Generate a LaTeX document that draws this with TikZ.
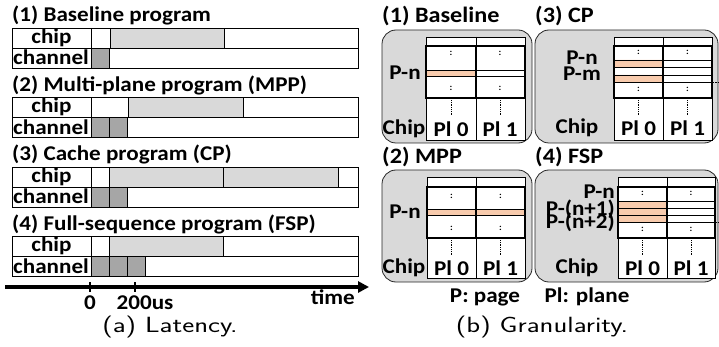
\documentclass[tikz,border=0pt]{standalone}
\usepackage{fontspec}
\setmainfont[FakeStretch=1.1]{Carlito}
\usepackage{graphicx}
\usetikzlibrary{arrows.meta}
\definecolor{busygray}{HTML}{D9D9D9}
\definecolor{xfergray}{HTML}{A6A6A6}
\definecolor{panelgray}{HTML}{D9D9D9}
\definecolor{pageorange}{HTML}{F8CBAD}
\begin{document}
\begin{tikzpicture}[
  x=1pt, y=-1pt,
  lbl/.style={font=\fontsize{21}{22}\selectfont\bfseries, inner sep=0pt},
  title/.style={lbl, anchor=base west},
  ptitle/.style={font=\fontsize{22}{23}\selectfont\bfseries, inner sep=0pt, anchor=west},
  capt/.style={font=\fontsize{22}{23}\selectfont\sffamily, inner sep=0pt},
  cell/.style={draw, line width=0.7pt},
  busy/.style={cell, fill=busygray},
  xfer/.style={cell, fill=xfergray},
  axis/.style={line width=3.5pt, -{Triangle[length=11pt,width=11pt]}},
  tick/.style={line width=2pt},
  panel/.style={draw=black!85, fill=panelgray, line width=0.8pt, rounded corners=14pt},
  plane/.style={draw, line width=2pt},
  page/.style={fill=pageorange},
  dots/.style={font=\fontsize{9}{9}\selectfont\bfseries, inner sep=0pt}
]
\useasboundingbox (0,0) rectangle (719,347);

% (a) latency
\foreach \i/\y/\t in {1/28/{(1) Baseline program}, 2/97.5/{(2) Multi-plane program (MPP)},
                      3/167/{(3) Cache program (CP)}, 4/236.5/{(4) Full-sequence program (FSP)}} {
  \node[title] (title\i) at (12,\y-6) {\t};
  \draw[cell] (12,\y) rectangle (358,\y+40);
  \draw[cell] (12,\y+20) -- (358,\y+20) (91,\y) -- (91,\y+40);
  \node[lbl] (chip\i) at (51.5,\y+9.5) {chip};
  \node[lbl] (chan\i) at (51,\y+29.5) {channel};
}
\foreach \y/\a/\b in {28/110/224, 97.5/128/243, 167/109/223, 167/223/338, 236.5/109/223}
  \draw[busy] (\a,\y) rectangle (\b,\y+20);
\foreach \y/\a in {28/91, 97.5/91, 97.5/109, 167/91, 167/109, 236.5/91, 236.5/109, 236.5/127}
  \draw[xfer] (\a,\y+20) rectangle (\a+18,\y+40);

\coordinate (t0) at (5,287);
\coordinate (t1) at (369,287);
\draw[axis] (t0) -- (t1);
\draw[tick] (90,282) -- (90,292) (135,282) -- (135,292);
\node[lbl] (zero) at (90,303) {0};
\node[lbl] (t200) at (145,303) {200us};
\node[lbl, anchor=east] (time) at (355,297) {time};
\node[capt] (capa) at (170,327) {\scalebox{1.3}[1]{(a) Latency.}};

% (b) granularity
\node[ptitle] (tbase) at (382,16) {(1) Baseline};
\node[ptitle] (tcp) at (535,16) {(3) CP};
\node[ptitle] (tmpp) at (382,157) {(2) MPP};
\node[ptitle] (tfsp) at (535,157) {(4) FSP};

% (1) Baseline
\draw[panel] (382,30) rectangle (532,143);
\draw[cell, fill=white] (426,37) rectangle (525,140);
\draw[cell] (476,37) -- (476,140);
\fill[page] (426,70) rectangle (476,76);
\draw[cell] (426,70) -- (525,70) (426,76) -- (525,76);
\draw[plane] (426,46) rectangle (476,98) (476,46) rectangle (525,98);
\foreach \x in {451,500} {
  \node[dots] at (\x,53) {:};
  \node[dots] at (\x,88) {:};
  \draw[densely dotted, line width=0.8pt] (\x,100) -- (\x,116);
}
\node[lbl] (pn1) at (405,73) {P-n};
\node[lbl] (chipb1) at (404,129) {Chip};
\node[lbl] (pl0a) at (451,129) {Pl 0};
\node[lbl] (pl1a) at (500,129) {Pl 1};

% (2) MPP
\draw[panel] (382,170) rectangle (532,282);
\draw[cell, fill=white] (427,177) rectangle (525,278);
\draw[cell] (476,177) -- (476,278);
\fill[page] (427,209) rectangle (525,215);
\draw[cell] (427,209) -- (525,209) (427,215) -- (525,215);
\draw[plane] (427,187) rectangle (476,238) (476,187) rectangle (525,238);
\foreach \x in {451.5,500.5} {
  \node[dots] at (\x,196) {:};
  \node[dots] at (\x,228) {:};
  \draw[densely dotted, line width=0.8pt] (\x,240) -- (\x,256);
}
\node[lbl] (pn2) at (405,212) {P-n};
\node[lbl] (chipb2) at (404,268) {Chip};
\node[lbl] (pl0b) at (451.5,268) {Pl 0};
\node[lbl] (pl1b) at (500.5,268) {Pl 1};

% (3) CP
\draw[panel] (535,30) rectangle (718,143);
\draw[cell, fill=white] (614,37) rectangle (712,140);
\draw[cell] (663,37) -- (663,140);
\fill[page] (614,60) rectangle (663,67) (614,75) rectangle (663,82);
\foreach \y in {60,67,75,82}
  \draw[cell] (614,\y) -- (712,\y);
\draw[plane] (614,46) rectangle (663,98) (663,46) rectangle (712,98);
\foreach \x in {638.5,687.5} {
  \node[dots] at (\x,52) {:};
  \node[dots] at (\x,89) {:};
  \draw[densely dotted, line width=0.8pt] (\x,100) -- (\x,116);
}
\draw[densely dotted] (712,82) -- (719,82);
\node[lbl] (pn3) at (582,58) {P-n};
\node[lbl] (pm3) at (582,74) {P-m};
\node[lbl] (chipb3) at (577,128) {Chip};
\node[lbl] (pl0c) at (638.5,128) {Pl 0};
\node[lbl] (pl1c) at (687.5,128) {Pl 1};

% (4) FSP
\draw[panel] (535,170) rectangle (718,282);
\draw[cell, fill=white] (618,177) rectangle (715,278);
\draw[cell] (667,177) -- (667,278);
\fill[page] (618,201) rectangle (667,222);
\foreach \y in {201,208,215,222}
  \draw[cell] (618,\y) -- (715,\y);
\draw[plane] (618,187) rectangle (667,238) (667,187) rectangle (715,238);
\foreach \x in {642.5,691} {
  \node[dots] at (\x,193) {:};
  \node[dots] at (\x,229) {:};
  \draw[densely dotted, line width=0.8pt] (\x,240) -- (\x,256);
}
\draw[densely dotted] (715,222) -- (719,222);
\node[lbl, anchor=east] (pn4) at (615,192) {P-n};
\node[lbl, anchor=east] (pn41) at (615,209) {P-(n+1)};
\node[lbl, anchor=east] (pn42) at (615,222) {P-(n+2)};
\node[lbl] (chipb4) at (577,268) {Chip};
\node[lbl] (pl0d) at (642.5,268) {Pl 0};
\node[lbl] (pl1d) at (691,268) {Pl 1};

\node[lbl] (legp) at (485,297) {P: page};
\node[lbl] (legpl) at (587,297) {Pl: plane};
\node[capt] (capb) at (542,327) {\scalebox{1.3}[1]{(b) Granularity.}};
\end{tikzpicture}
\end{document}
